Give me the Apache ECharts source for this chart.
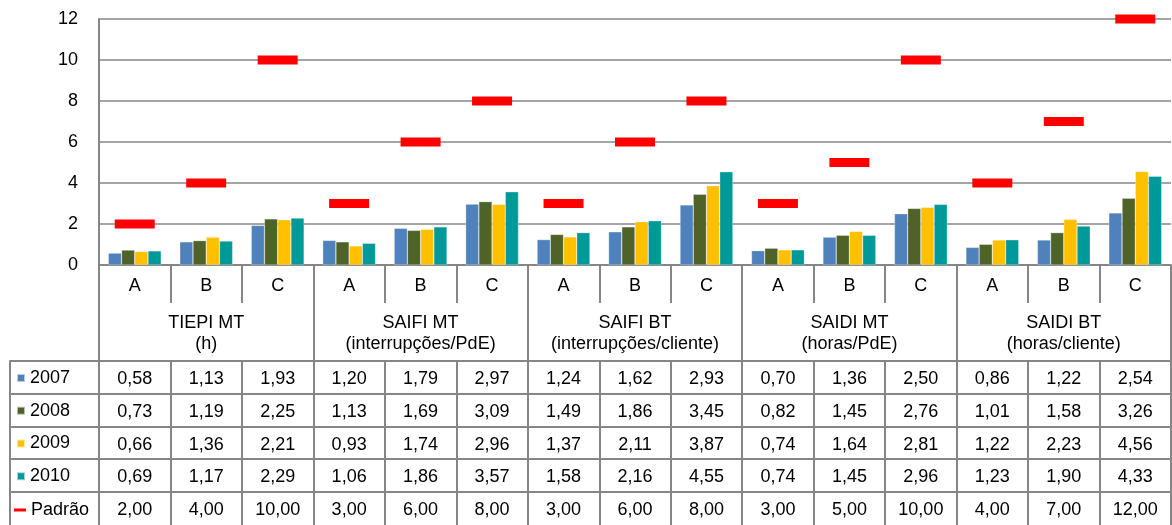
<!DOCTYPE html>
<html>
<head>
<meta charset="utf-8">
<title>Indicadores de continuidade de serviço</title>
<script src="https://cdn.jsdelivr.net/npm/echarts@6/dist/echarts.min.js"></script>
<style>
  html, body { margin: 0; padding: 0; background: #fff; }
  #chart { width: 1172px; height: 525px; }
</style>
</head>
<body>
<div id="chart"></div>
<script>
const categories = ['A', 'B', 'C', 'A', 'B', 'C', 'A', 'B', 'C', 'A', 'B', 'C', 'A', 'B', 'C'];
const groups = ['TIEPI MT\n(h)', 'SAIFI MT\n(interrupções/PdE)', 'SAIFI BT\n(interrupções/cliente)', 'SAIDI MT\n(horas/PdE)', 'SAIDI BT\n(horas/cliente)'];
const years = ['2007', '2008', '2009', '2010'];
const v2007 = [0.58, 1.13, 1.93, 1.20, 1.79, 2.97, 1.24, 1.62, 2.93, 0.70, 1.36, 2.50, 0.86, 1.22, 2.54];
const v2008 = [0.73, 1.19, 2.25, 1.13, 1.69, 3.09, 1.49, 1.86, 3.45, 0.82, 1.45, 2.76, 1.01, 1.58, 3.26];
const v2009 = [0.66, 1.36, 2.21, 0.93, 1.74, 2.96, 1.37, 2.11, 3.87, 0.74, 1.64, 2.81, 1.22, 2.23, 4.56];
const v2010 = [0.69, 1.17, 2.29, 1.06, 1.86, 3.57, 1.58, 2.16, 4.55, 0.74, 1.45, 2.96, 1.23, 1.90, 4.33];
const padrao = [2, 4, 10, 3, 6, 8, 3, 6, 8, 3, 5, 10, 4, 7, 12];
const yMin = 0, yMax = 12, yStep = 2;

const yearValues = [v2007, v2008, v2009, v2010];
const colors = ['#4F81BD', '#4F6228', '#FFC000', '#009999'];
const padraoColor = '#FF0000';
const font = 'Liberation Sans, Arial, sans-serif';
const lineCol = '#868686';
const rowH = 32.75;

const fmt = (v) => v.toFixed(2).replace('.', ',');

// linhas da tabela: uma por ano + padrão
const rows = yearValues.concat([padrao]);

const xAxes = [
  {
    // categorias A/B/C
    type: 'category', gridIndex: 0, data: categories, position: 'bottom',
    axisLine: { show: true, lineStyle: { color: lineCol, width: 2 } },
    axisTick: { show: true, interval: 0, length: 38, lineStyle: { color: lineCol, width: 2 } },
    axisLabel: { interval: 0, margin: 12, fontSize: 18, fontFamily: font, color: '#000' }
  },
  {
    // indicadores
    type: 'category', gridIndex: 0, data: groups, position: 'bottom',
    axisLine: { show: false, onZero: false },
    axisTick: { show: true, interval: 0, length: 96, lineStyle: { color: lineCol, width: 2 } },
    axisLabel: { interval: 0, margin: 48, fontSize: 18, lineHeight: 21, fontFamily: font, color: '#000' }
  }
];

rows.forEach((vals, i) => {
  const off = Math.round(96 + i * rowH);
  xAxes.push({
    type: 'category', gridIndex: 0, data: categories, position: 'bottom', offset: off,
    axisLine: { show: true, onZero: false, lineStyle: { color: lineCol, width: 2 } },
    axisTick: { show: true, interval: 0, length: 34, lineStyle: { color: lineCol, width: 2 } },
    axisLabel: {
      interval: 0, margin: 9, fontSize: 18, fontFamily: font, color: '#000',
      formatter: (value, idx) => fmt(vals[idx])
    }
  });
  // coluna da legenda à esquerda
  xAxes.push({
    type: 'category', gridIndex: 1, data: [''], position: 'bottom', offset: off,
    axisLine: { show: true, onZero: false, lineStyle: { color: lineCol, width: 2 } },
    axisTick: { show: true, interval: 0, length: 34, lineStyle: { color: lineCol, width: 2 } },
    axisLabel: { show: false }
  });
});

const series = years.map((y, i) => ({
  name: y,
  type: 'bar',
  xAxisIndex: 0,
  yAxisIndex: 0,
  data: yearValues[i],
  barGap: '0%',
  barCategoryGap: '26%',
  itemStyle: { color: colors[i], borderColor: 'rgba(255,255,255,0.6)', borderWidth: 0.5 }
}));

series.push({
  name: 'Padrão',
  type: 'scatter',
  xAxisIndex: 0,
  yAxisIndex: 0,
  data: padrao,
  symbol: 'rect',
  symbolSize: [40, 9],
  itemStyle: { color: padraoColor, opacity: 1 },
  z: 5
});

const option = {
  animation: false,
  backgroundColor: '#fff',
  grid: [
    { left: 99, right: 1, top: 19, bottom: 260 },
    { left: 10, width: 89, top: 19, bottom: 260 }
  ],
  xAxis: xAxes,
  yAxis: [
    {
      type: 'value', gridIndex: 0, min: yMin, max: yMax, interval: yStep,
      axisLine: { show: true, lineStyle: { color: lineCol, width: 2 } },
      axisTick: { show: false },
      splitLine: { show: true, lineStyle: { color: lineCol, width: 1.5 } },
      axisLabel: { margin: 21, fontSize: 18, fontFamily: font, color: '#000' }
    },
    { type: 'value', gridIndex: 1, show: false, min: yMin, max: yMax }
  ],
  legend: [
    {
      data: years, orient: 'vertical', left: 16, top: 369, padding: 0,
      itemWidth: 8, itemHeight: 8, itemGap: rowH - 18, icon: 'rect',
      selectedMode: false,
      textStyle: { fontSize: 18, fontFamily: font, color: '#000' }
    },
    {
      data: ['Padrão'], orient: 'vertical', left: 14, top: 501, padding: 0,
      itemWidth: 12, itemHeight: 3, icon: 'rect',
      selectedMode: false,
      textStyle: { fontSize: 18, fontFamily: font, color: '#000' }
    }
  ],
  series: series
};

const chart = echarts.init(document.getElementById('chart'));
chart.setOption(option);
</script>
</body>
</html>
